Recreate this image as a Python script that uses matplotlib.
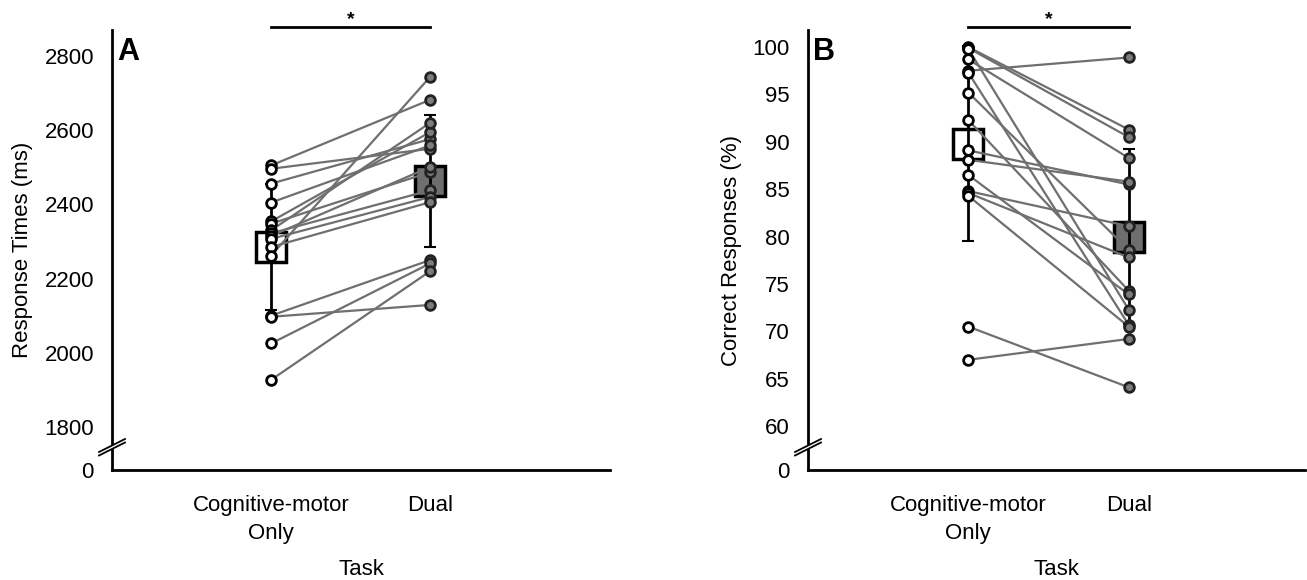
import matplotlib
matplotlib.use("Agg")
import matplotlib.pyplot as plt
import numpy as np

plt.rcParams["font.family"] = ["Liberation Sans", "DejaVu Sans"]

tasks = ["Cognitive-motor\nOnly", "Dual"]

# panel A: response times (ms), one entry per participant
rt_single = [2505, 2496, 2456, 2405, 2354, 2348, 2330, 2322,
             2315, 2307, 2285, 2262, 2100, 2097, 2025, 1927]
rt_dual = [2682, 2550, 2576, 2559, 2595, 2487, 2620, 2438,
           2501, 2420, 2406, 2744, 2250, 2129, 2241, 2220]
rt_mean = [2285, 2463]
rt_sd = [170, 178]
rt_ticks = [1800, 2000, 2200, 2400, 2600, 2800]

# panel B: correct responses (%)
acc_single = [100.0, 99.9, 99.8, 98.7, 97.5, 97.3, 95.2, 92.3,
              89.1, 88.1, 86.5, 84.8, 84.6, 84.3, 70.5, 67.0]
acc_dual = [91.3, 90.5, 72.3, 88.3, 98.9, 70.7, 78.6, 74.3,
            85.5, 85.8, 73.9, 81.1, 77.8, 70.5, 64.1, 69.2]
acc_mean = [89.8, 80.0]
acc_sd = [10.3, 9.2]
acc_ticks = [60, 65, 70, 75, 80, 85, 90, 95, 100]

LINE = "#6f6f6f"
FILL = "#7c7c7c"
BOX = "#6e6e6e"
FS = 16


def draw_panel(ax, single, dual, mean, sd, ticks, ylim, xmax, ylabel, letter):
    x = np.array([1, 2])
    for a, b in zip(single, dual):
        ax.plot(x, [a, b], color=LINE, lw=1.6, zorder=3)
    ax.plot(x[0], mean[0], marker="s", ms=21, mfc="white", mec="black",
            mew=2.5, ls="none", zorder=2)
    ax.plot(x[1], mean[1], marker="s", ms=21, mfc=BOX, mec="black",
            mew=2.5, ls="none", zorder=2)
    ax.errorbar(x, mean, yerr=sd, fmt="none", ecolor="black", elinewidth=2,
                capsize=4, capthick=1.5, zorder=4)
    ax.plot(np.full(len(single), 1), single, "o", ms=7, mfc="white",
            mec="black", mew=2, zorder=5)
    ax.plot(np.full(len(dual), 2), dual, "o", ms=7, mfc=FILL,
            mec="#222222", mew=2, zorder=5)

    ax.set_xlim(0, xmax)
    ax.set_ylim(*ylim)
    ax.set_xticks(x)
    ax.set_xticklabels(tasks, fontsize=FS, linespacing=1.45)
    ax.set_yticks([ylim[0]] + ticks)
    ax.set_yticklabels(["0"] + [str(t) for t in ticks], fontsize=FS)
    ax.tick_params(length=0, axis="y", pad=13)
    ax.tick_params(length=0, axis="x", pad=18)
    for s in ("top", "right"):
        ax.spines[s].set_visible(False)
    for s in ("left", "bottom"):
        ax.spines[s].set_linewidth(2)
    ax.set_xlabel("Task", fontsize=FS, labelpad=11)
    ax.set_ylabel(ylabel, fontsize=FS, labelpad=8)

    # significance bar
    tr = ax.get_xaxis_transform()
    ax.plot([1, 2], [1.0075, 1.0075], color="black", lw=2, transform=tr,
            clip_on=False)
    ax.text(1.5, 1.004, "*", ha="center", va="bottom", fontsize=14,
            fontweight="bold", transform=tr)

    ax.text(0.01, 0.985, letter, transform=ax.transAxes, fontsize=22,
            fontweight="bold", va="top", ha="left")

    # axis break marks
    w, h = ax.bbox.width, ax.bbox.height
    dx, dy, gap = 13 / w, 6.5 / h, 3.5 / h
    cy = 21 / h
    poly = plt.Polygon([(-dx, cy - dy), (dx, cy + dy),
                        (dx, cy + dy + gap), (-dx, cy - dy + gap)],
                       closed=True, facecolor="white", edgecolor="none",
                       transform=ax.transAxes, clip_on=False, zorder=6)
    ax.add_patch(poly)
    for off in (0, gap):
        ax.plot([-dx, dx], [cy - dy + off, cy + dy + off], color="black",
                lw=1.3, transform=ax.transAxes, clip_on=False, zorder=7)


fig = plt.figure(figsize=(13.07, 5.8), dpi=100)
axA = fig.add_axes([112 / 1307, 110 / 580, 498 / 1307, 440 / 580])
axB = fig.add_axes([808 / 1307, 110 / 580, 497 / 1307, 440 / 580])

draw_panel(axA, rt_single, rt_dual, rt_mean, rt_sd, rt_ticks,
           (1684, 2870), 3.13, "Response Times (ms)", "A")
draw_panel(axB, acc_single, acc_dual, acc_mean, acc_sd, acc_ticks,
           (55.37, 101.8), 3.1, "Correct Responses (%)", "B")

fig.savefig("out.png", dpi=100)
